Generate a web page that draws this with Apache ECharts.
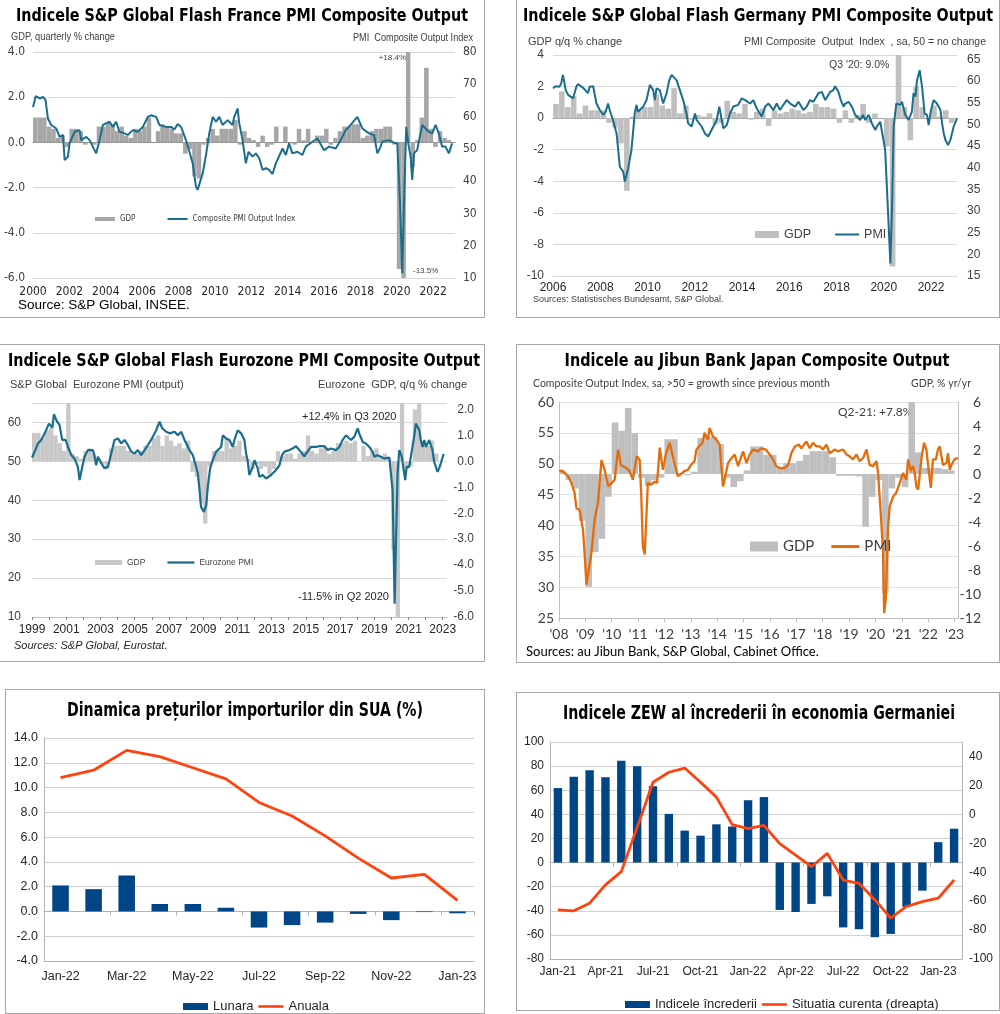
<!DOCTYPE html>
<html><head><meta charset="utf-8">
<script src="https://cdn.jsdelivr.net/npm/echarts@6/dist/echarts.min.js"></script>
<style>
body{margin:0;background:#fff;width:1000px;height:1014px;position:relative;overflow:hidden;}
.box{position:absolute;border:1px solid #a6a6a6;box-sizing:border-box;}
.ch{position:absolute;}
</style></head><body>
<div class="box" style="left:-1px;top:-1px;width:486px;height:319px"></div>
<div class="box" style="left:516px;top:-1px;width:484px;height:319px"></div>
<div class="box" style="left:-1px;top:344px;width:486px;height:318px"></div>
<div class="box" style="left:516px;top:344px;width:484px;height:319px"></div>
<div class="box" style="left:5px;top:689px;width:480px;height:325px"></div>
<div class="box" style="left:516px;top:692px;width:484px;height:319px"></div>
<div id="c1" class="ch" style="left:0;top:0;width:485px;height:318px"></div>
<div id="c2" class="ch" style="left:516px;top:0;width:484px;height:318px"></div>
<div id="c3" class="ch" style="left:0;top:344px;width:485px;height:318px"></div>
<div id="c4" class="ch" style="left:516px;top:344px;width:484px;height:318px"></div>
<div id="c5" class="ch" style="left:5px;top:689px;width:480px;height:325px"></div>
<div id="c6" class="ch" style="left:516px;top:692px;width:484px;height:318px"></div>
<script>
// ---------- DATA ----------
// France: GDP quarterly % change, 2000Q1..2022Q4
const frGdp = [1.1,1.1,1.1,0.7, 0.6,0.2,0.3,-0.2, 0.6,0.6,0.5,-0.1, 0.0,-0.1,0.7,0.7, 0.9,0.8,0.5,0.7,
  0.3,0.2,0.6,0.5, 0.7,1.1,0.0,0.5, 0.8,0.7,0.6,0.4, 0.4,-0.5,-0.3,-1.5, -1.6,-0.1,0.2,0.6,
  0.3,0.6,0.6,0.6, 1.0,-0.1,0.5,0.2, 0.1,-0.2,0.3,-0.2, -0.1,0.7,0.0,0.7, 0.0,-0.1,0.6,0.1,
  0.6,0.0,0.3,0.3, 0.6,-0.1,0.2,0.5, 0.7,0.7,0.8,0.8, 0.2,0.3,0.5,0.6, 0.6,0.7,0.7,-0.1,
  -5.6,-13.5,18.4,-1.1, 0.1,1.1,3.3,0.6, -0.2,0.5,0.2,0.1];
// France: Composite PMI Output Index [year, value]
const frPmi = [[2000.0,63.0],[2000.15,66.3],[2000.37,65.6],[2000.55,66.1],[2000.69,65.1],[2000.82,59.4],[2001.0,57.4],[2001.28,56.3],[2001.46,53.7],[2001.65,54.3],[2001.74,46.5],[2001.92,47.6],[2002.01,51.7],[2002.29,55.3],[2002.56,55.8],[2002.65,52.7],[2002.93,53.7],[2003.11,52.7],[2003.47,48.6],[2003.66,52.7],[2003.84,57.4],[2004.21,58.4],[2004.39,56.8],[2004.57,58.4],[2004.75,55.3],[2005.03,54.8],[2005.21,54.3],[2005.49,55.8],[2005.76,55.3],[2006.04,56.8],[2006.31,59.9],[2006.49,60.4],[2006.77,59.9],[2006.95,57.4],[2007.32,56.8],[2007.59,56.8],[2007.77,56.0],[2007.96,57.7],[2008.14,56.8],[2008.41,52.7],[2008.6,49.1],[2008.78,45.5],[2008.96,38.3],[2009.05,37.3],[2009.14,36.8],[2009.33,42.4],[2009.51,48.1],[2009.69,54.8],[2009.88,59.9],[2010.06,58.4],[2010.24,59.9],[2010.42,57.4],[2010.7,58.9],[2010.97,57.4],[2011.06,59.9],[2011.25,62.5],[2011.34,57.9],[2011.52,52.7],[2011.7,45.5],[2011.85,49.1],[2012.07,47.6],[2012.25,48.6],[2012.44,47.1],[2012.62,43.5],[2012.8,44.0],[2012.98,43.5],[2013.17,42.2],[2013.35,45.5],[2013.72,50.1],[2013.9,48.1],[2014.08,51.7],[2014.26,48.6],[2014.54,49.1],[2014.81,48.1],[2015.0,50.7],[2015.36,52.2],[2015.64,53.2],[2016.0,49.6],[2016.28,50.7],[2016.64,50.1],[2016.92,52.7],[2017.19,55.8],[2017.46,57.4],[2017.83,59.9],[2017.92,59.4],[2018.11,56.3],[2018.47,54.8],[2018.75,54.3],[2018.93,48.6],[2019.11,50.7],[2019.2,52.2],[2019.57,52.7],[2019.84,51.9],[2020.03,51.7],[2020.17,34.2],[2020.3,11.5],[2020.39,32.1],[2020.52,56.8],[2020.63,51.7],[2020.76,47.6],[2020.85,40.4],[2020.94,48.6],[2021.12,49.6],[2021.3,54.8],[2021.4,57.4],[2021.58,56.3],[2021.76,55.3],[2021.95,54.8],[2022.13,57.4],[2022.31,54.8],[2022.49,50.7],[2022.68,50.7],[2022.86,48.6],[2023.04,51.7]];

// Germany: GDP q/q %, 2006Q1..2022Q4
const deGdp = [0.9,1.7,0.7,1.4, 0.3,0.8,0.5,0.5, 0.5,-0.3,-0.6,-1.6, -4.6,0.1,0.5,0.7, 0.7,1.5,0.8,0.6,
  1.9,0.3,0.8,-0.1, 0.2,0.1,0.3,-0.4, -0.3,1.1,0.4,0.3, 0.9,-0.1,0.4,0.6, -0.5,0.5,0.3,0.4,
  0.6,0.5,0.3,0.4, 0.9,0.7,0.7,0.6, -0.3,0.5,-0.3,0.2, 0.9,-0.3,0.3,0.0, -1.8,-9.4,9.0,0.7,
  -1.4,2.0,0.7,0.0, 0.8,0.1,0.5,-0.3];
const dePmi = [[2006.0,58.3],[2006.1,58.8],[2006.28,58.7],[2006.35,59.5],[2006.42,61.4],[2006.54,57.9],[2006.64,56.8],[2006.85,56.0],[2006.99,58.7],[2007.06,59.3],[2007.3,58.3],[2007.48,57.2],[2007.55,58.7],[2007.63,58.5],[2007.7,58.8],[2007.84,54.8],[2007.98,53.3],[2008.12,52.2],[2008.23,52.9],[2008.33,54.8],[2008.4,53.3],[2008.54,51.0],[2008.69,47.9],[2008.83,40.2],[2008.97,39.1],[2009.04,36.8],[2009.18,39.8],[2009.32,44.1],[2009.46,52.5],[2009.53,54.5],[2009.6,52.9],[2009.82,54.1],[2009.96,55.6],[2010.1,59.1],[2010.24,57.9],[2010.31,55.6],[2010.38,58.3],[2010.52,57.9],[2010.66,54.8],[2010.81,57.2],[2010.92,60.2],[2011.02,61.4],[2011.23,60.2],[2011.37,57.9],[2011.51,55.6],[2011.65,52.5],[2011.72,50.2],[2011.87,49.5],[2012.01,52.5],[2012.08,51.0],[2012.29,49.5],[2012.43,47.9],[2012.57,47.2],[2012.71,48.7],[2012.78,48.3],[2012.93,51.0],[2013.04,54.1],[2013.14,51.0],[2013.21,49.1],[2013.35,49.8],[2013.49,52.5],[2013.63,54.1],[2013.84,54.5],[2013.99,56.0],[2014.13,55.6],[2014.2,56.0],[2014.34,54.8],[2014.48,55.6],[2014.62,53.7],[2014.69,54.1],[2014.83,51.8],[2014.9,52.2],[2014.98,54.1],[2015.12,54.8],[2015.33,53.3],[2015.47,54.8],[2015.61,53.3],[2015.75,54.5],[2015.89,55.6],[2016.04,54.8],[2016.25,54.1],[2016.39,55.2],[2016.6,53.3],[2016.74,54.1],[2016.88,55.6],[2017.02,55.2],[2017.24,57.2],[2017.38,57.5],[2017.52,55.6],[2017.66,56.8],[2017.73,57.5],[2017.87,57.9],[2017.94,58.8],[2018.08,57.5],[2018.18,55.6],[2018.3,54.1],[2018.37,54.8],[2018.51,55.2],[2018.65,54.1],[2018.79,52.2],[2018.86,52.5],[2019.0,51.0],[2019.12,52.2],[2019.22,51.0],[2019.36,52.2],[2019.5,50.2],[2019.64,48.7],[2019.71,49.5],[2019.85,50.6],[2019.92,50.2],[2020.06,44.1],[2020.28,17.9],[2020.35,31.0],[2020.42,49.5],[2020.53,54.8],[2020.7,54.5],[2020.77,55.2],[2020.91,52.2],[2021.05,51.0],[2021.19,52.9],[2021.26,57.2],[2021.34,56.4],[2021.41,60.2],[2021.52,62.5],[2021.62,58.7],[2021.73,52.5],[2021.83,52.2],[2021.9,49.8],[2022.0,53.3],[2022.11,55.6],[2022.25,54.8],[2022.4,53.3],[2022.47,50.2],[2022.54,47.9],[2022.61,46.4],[2022.72,45.2],[2022.82,46.4],[2022.96,49.5],[2023.1,51.4]];

// Eurozone: GDP q/q %, 1999Q1..2022Q4
const ezGdp = [1.1,1.1,0.9,1.2, 1.3,1.0,0.7,0.4, 2.5,0.3,0.2,0.1, 0.4,0.5,0.3,0.1, -0.1,-0.3,0.5,0.6,
  0.6,0.6,0.4,0.3, 0.3,0.4,0.6,0.6, 0.9,1.0,0.6,1.0, 0.8,0.6,0.7,0.5, 0.8,-0.4,-0.6,-1.6,
  -2.4,-0.2,0.4,0.4, 0.4,0.9,0.5,0.6, 0.8,0.2,0.1,-0.3, -0.1,-0.3,-0.2,-0.5, -0.3,0.4,0.2,0.3,
  0.3,0.1,0.3,0.4, 1.0,0.4,0.3,0.5, 0.6,0.3,0.4,0.7, 0.7,0.8,0.7,0.8, 0.0,0.6,0.2,0.4,
  0.5,0.2,0.3,0.1, -3.4,-11.5,12.4,-0.3, -0.2,2.0,2.3,0.6, 0.6,0.8,0.3,0.0];
const ezPmi = [[1999.0,51.0],[1999.16,52.5],[1999.35,54.6],[1999.54,55.5],[1999.74,57.2],[1999.99,59.7],[2000.19,58.7],[2000.28,62.1],[2000.42,60.6],[2000.61,59.3],[2000.77,55.5],[2000.96,55.5],[2001.1,53.7],[2001.3,51.6],[2001.49,50.7],[2001.68,48.6],[2001.78,45.2],[2001.94,48.6],[2002.07,51.2],[2002.27,52.9],[2002.56,52.9],[2002.66,51.2],[2002.75,49.0],[2002.85,51.2],[2003.05,49.5],[2003.24,48.2],[2003.44,48.6],[2003.63,52.0],[2003.82,55.5],[2004.02,55.9],[2004.21,54.6],[2004.41,55.5],[2004.6,54.2],[2004.8,52.5],[2004.99,52.0],[2005.19,52.9],[2005.38,51.6],[2005.58,52.9],[2005.77,54.2],[2005.96,55.5],[2006.26,58.0],[2006.45,60.2],[2006.61,58.5],[2006.84,57.6],[2007.04,57.2],[2007.33,57.6],[2007.52,56.7],[2007.72,57.6],[2007.91,55.5],[2008.01,55.9],[2008.2,52.9],[2008.4,51.6],[2008.59,48.6],[2008.69,46.9],[2008.79,42.6],[2008.88,38.3],[2009.04,37.0],[2009.18,38.7],[2009.27,43.4],[2009.41,48.2],[2009.56,50.3],[2009.76,52.5],[2010.05,53.7],[2010.15,56.7],[2010.34,55.9],[2010.54,55.5],[2010.73,53.7],[2010.83,55.5],[2011.02,58.0],[2011.22,57.2],[2011.41,55.5],[2011.51,52.0],[2011.61,49.9],[2011.7,46.5],[2011.9,48.6],[2012.0,50.3],[2012.19,48.2],[2012.29,46.0],[2012.48,46.5],[2012.68,45.6],[2012.97,46.5],[2013.07,46.0],[2013.26,47.8],[2013.46,49.0],[2013.61,51.6],[2013.75,52.5],[2014.04,52.9],[2014.23,53.3],[2014.43,53.9],[2014.62,52.9],[2014.91,51.3],[2015.01,52.0],[2015.3,53.7],[2015.6,53.7],[2015.79,53.9],[2016.08,53.9],[2016.28,52.9],[2016.47,53.3],[2016.76,52.9],[2016.96,53.7],[2017.15,55.5],[2017.35,56.7],[2017.64,55.5],[2017.83,56.3],[2018.03,58.5],[2018.12,57.2],[2018.32,55.0],[2018.51,54.6],[2018.71,53.7],[2018.9,52.5],[2019.0,51.2],[2019.19,51.6],[2019.39,51.2],[2019.58,50.7],[2019.68,50.3],[2019.88,51.0],[2019.97,51.2],[2020.07,42.6],[2020.19,13.4],[2020.27,29.7],[2020.36,46.9],[2020.46,52.9],[2020.61,51.2],[2020.69,48.6],[2020.81,45.2],[2020.89,48.6],[2021.04,48.6],[2021.2,52.9],[2021.33,56.3],[2021.43,59.7],[2021.53,60.2],[2021.63,58.0],[2021.72,55.5],[2021.82,53.7],[2021.92,55.5],[2022.02,53.7],[2022.21,55.5],[2022.4,52.9],[2022.5,49.9],[2022.6,48.6],[2022.7,47.3],[2022.79,48.2],[2022.89,49.5],[2023.05,51.9]];

// Japan: GDP % yr/yr, 2008Q1..2022Q4
const jpGdp = [0.3,-0.5,-1.2,-3.9, -9.4,-6.5,-5.4,-1.9, 4.3,3.6,5.5,3.4, -0.3,-1.0,-0.5,-0.3, 2.9,2.9,0.1,-0.1,
  0.2,3.0,3.1,3.1, 2.5,-0.3,-1.1,-0.6, 0.3,2.3,2.3,1.6, 1.6,0.6,0.9,0.9, 1.1,1.6,1.9,1.9,
  1.9,1.4,-0.15,-0.15, -0.15,-0.2,-4.4,-1.9, -0.5,-9.9,-1.2,-0.3, -1.1,7.8,1.8,0.5, 0.5,0.5,0.4,0.3];
const jpPmi = [[2008.0,48.8],[2008.09,48.9],[2008.21,48.5],[2008.34,48.0],[2008.47,46.9],[2008.59,45.3],[2008.66,42.8],[2008.78,42.5],[2008.91,39.3],[2008.97,35.5],[2009.04,30.4],[2009.1,30.1],[2009.23,35.6],[2009.35,40.9],[2009.48,43.7],[2009.61,50.6],[2009.73,49.0],[2009.87,46.3],[2010.0,46.9],[2010.11,47.4],[2010.24,52.3],[2010.35,49.8],[2010.55,49.3],[2010.68,48.8],[2010.8,47.4],[2010.95,51.2],[2011.06,50.6],[2011.12,44.7],[2011.18,36.6],[2011.25,35.3],[2011.37,46.9],[2011.5,46.6],[2011.62,47.1],[2011.72,46.9],[2011.82,52.6],[2011.94,49.0],[2012.05,51.5],[2012.2,53.4],[2012.3,51.5],[2012.4,49.8],[2012.5,48.0],[2012.62,48.3],[2012.75,48.8],[2012.89,49.0],[2013.0,49.8],[2013.14,50.4],[2013.21,52.3],[2013.31,52.8],[2013.44,53.4],[2013.52,55.0],[2013.65,53.9],[2013.71,55.8],[2013.84,54.4],[2013.97,53.9],[2014.09,53.1],[2014.22,46.3],[2014.28,47.4],[2014.41,50.1],[2014.54,50.9],[2014.66,51.5],[2014.79,49.6],[2014.98,52.0],[2015.11,50.1],[2015.23,51.5],[2015.36,52.3],[2015.55,52.0],[2015.67,52.5],[2015.84,52.3],[2015.99,51.5],[2016.12,50.7],[2016.24,49.6],[2016.37,49.3],[2016.56,49.3],[2016.69,49.8],[2016.81,51.7],[2016.94,52.8],[2017.1,53.1],[2017.19,52.5],[2017.38,53.6],[2017.51,52.5],[2017.63,53.4],[2017.76,52.8],[2017.89,52.8],[2018.01,52.3],[2018.14,53.1],[2018.27,51.7],[2018.46,52.3],[2018.58,52.0],[2018.77,52.3],[2018.9,51.5],[2019.02,51.2],[2019.15,50.7],[2019.28,51.5],[2019.4,50.4],[2019.53,50.9],[2019.66,52.3],[2019.78,49.8],[2019.91,49.6],[2020.04,50.4],[2020.1,48.5],[2020.2,42.0],[2020.29,35.5],[2020.33,25.8],[2020.39,28.0],[2020.48,39.8],[2020.54,43.1],[2020.67,44.7],[2020.79,45.3],[2020.92,46.9],[2021.05,48.5],[2021.17,47.4],[2021.24,50.7],[2021.34,48.8],[2021.43,49.6],[2021.49,48.5],[2021.55,46.3],[2021.62,45.8],[2021.74,50.7],[2021.84,53.4],[2021.93,52.3],[2022.03,48.5],[2022.1,46.1],[2022.18,50.7],[2022.29,50.7],[2022.37,52.3],[2022.44,52.8],[2022.5,51.2],[2022.56,49.8],[2022.69,50.1],[2022.75,51.7],[2022.82,49.0],[2022.88,49.8],[2023.01,50.8],[2023.13,50.9]];

// US import prices
const usCats = ['Jan-22','Feb-22','Mar-22','Apr-22','May-22','Jun-22','Jul-22','Aug-22','Sep-22','Oct-22','Nov-22','Dec-22','Jan-23'];
const usMonthly = [2.1,1.8,2.9,0.6,0.6,0.3,-1.3,-1.1,-0.9,-0.2,-0.7,-0.05,-0.15];
const usAnnual = [10.8,11.4,13.0,12.5,11.6,10.7,8.8,7.7,6.1,4.3,2.7,3.0,0.9];

// ZEW Germany
const zewCats = ['Jan-21','Feb-21','Mar-21','Apr-21','May-21','Jun-21','Jul-21','Aug-21','Sep-21','Oct-21','Nov-21','Dec-21','Jan-22','Feb-22','Mar-22','Apr-22','May-22','Jun-22','Jul-22','Aug-22','Sep-22','Oct-22','Nov-22','Dec-22','Jan-23','Feb-23'];
const zewConf = [61.8,71.2,76.6,70.7,84.4,79.8,63.3,40.4,26.5,22.3,31.7,29.9,51.7,54.3,-39.3,-41.0,-34.3,-28.0,-53.8,-55.3,-61.9,-59.2,-36.7,-23.3,16.9,28.1];
const zewCurrent = [-66.0,-66.7,-61.4,-48.8,-39.6,-9.0,22.2,29.1,32.0,22.2,11.9,-7.1,-9.9,-7.6,-20.2,-28.2,-36.2,-27.0,-45.4,-47.7,-59.0,-71.7,-63.7,-60.3,-58.0,-45.4];

// ---------- RENDER ----------
const FN = "'Liberation Sans Narrow','Arial Narrow','DejaVu Sans Condensed',sans-serif";
const FA = "'Liberation Sans',Arial,sans-serif";
const FL = "Lato,'Open Sans',sans-serif";
const TEAL = '#1b6e8b';
const mctx = document.createElement('canvas').getContext('2d');
function T(x,y,text,font,fill,align){return {type:'text',x:x,y:y,silent:true,style:{text:text,font:font,fill:fill||'#000',align:align||'left',verticalAlign:'middle'}};}
// text squeezed horizontally to a given width (condensed look)
function TW(x,y,text,font,fill,align,w){mctx.font=font;const s=w/mctx.measureText(text).width;const e=T(x,y,text,font,fill,align);e.scaleX=s;return e;}
function title(x,y,text,w,size){return TW(x,y,text,"bold "+size+"px 'DejaVu Sans',sans-serif",'#000','center',w);}
function lineIcon(w,h){return 'path://M0,0H'+w+'V'+h+'H0Z';}
function qBars(arr,start){return arr.map((v,i)=>[start+i*0.25+0.125,v]);}
function mk(id,opt){const c=echarts.init(document.getElementById(id));opt.animation=false;c.setOption(opt);}
const noLine={show:false}, noTick={show:false};

// 1. France
mk('c1',{
  grid:{left:33,right:30,top:52,bottom:40,containLabel:false,outerBoundsMode:'none'},
  xAxis:[{type:'value',min:2000,max:2023.2,interval:2,splitLine:{show:false},axisLine:{onZero:false,lineStyle:{color:'#d9d9d9'}},axisTick:noTick,
     axisLabel:{showMaxLabel:false,formatter:v=>Number.isInteger(v)?String(v):'',color:'#262626',fontSize:12,fontFamily:FN,margin:8}},
    {type:'value',min:2000,max:2023.2,splitLine:{show:false},axisLine:{onZero:true,onZeroAxisIndex:0,lineStyle:{color:'#8c8c8c'}},axisTick:noTick,axisLabel:{show:false}}],
  yAxis:[{type:'value',min:-6,max:4,interval:2,axisLine:noLine,axisTick:noTick,splitLine:{lineStyle:{color:'#d9d9d9'}},
     axisLabel:{formatter:v=>v.toFixed(1),color:'#404040',fontSize:12,fontFamily:FN,margin:8}},
    {type:'value',min:10,max:80,interval:10,position:'right',axisLine:noLine,axisTick:noTick,splitLine:{show:false},
     axisLabel:{color:'#404040',fontSize:12,fontFamily:FN,margin:8}}],
  legend:{left:90,top:210,itemWidth:20,itemHeight:4,itemGap:32,textStyle:{fontSize:8,fontFamily:FN,color:'#404040'},
    data:[{name:'GDP',icon:'rect'},{name:'Composite PMI Output Index',icon:lineIcon(20,2)}]},
  series:[{type:'bar',name:'GDP',data:qBars(frGdp,2000),barWidth:4.5,itemStyle:{color:'#a6a6a6'},clip:true},
    {type:'line',name:'Composite PMI Output Index',data:frPmi,yAxisIndex:1,symbol:'none',showSymbol:false,lineStyle:{color:TEAL,width:2},itemStyle:{color:TEAL}}],
  graphic:[title(242,16,'Indicele S&P Global Flash France PMI Composite Output',452,18),
    TW(11,37,'GDP, quarterly % change',"10px "+FA,'#404040','left',104),
    TW(473,38,'PMI  Composite Output Index',"10px "+FA,'#404040','right',120),
    T(406,58,'+18.4%',"8px "+FA,'#404040','right'),
    T(413,271,'-13.5%',"8px "+FA,'#404040'),
    T(18,305,'Source: S&P Global, INSEE.',"13.5px "+FA,'#000')]
});

// 2. Germany
mk('c2',{
  grid:{left:37,right:43,top:55,bottom:42,containLabel:false,outerBoundsMode:'none'},
  xAxis:[{type:'value',min:2006,max:2023.1,interval:2,splitLine:{show:false},axisLine:{onZero:false,lineStyle:{color:'#d9d9d9'}},axisTick:noTick,
     axisLabel:{showMaxLabel:false,formatter:v=>Number.isInteger(v)?String(v):'',color:'#262626',fontSize:12,fontFamily:FA,margin:6}},
    {type:'value',min:2006,max:2023.1,splitLine:{show:false},axisLine:{onZero:true,onZeroAxisIndex:0,lineStyle:{color:'#a6a6a6'}},axisTick:noTick,axisLabel:{show:false}}],
  yAxis:[{type:'value',min:-10,max:4,interval:2,axisLine:noLine,axisTick:noTick,splitLine:{lineStyle:{color:'#d9d9d9'}},
     axisLabel:{color:'#404040',fontSize:12,fontFamily:FA,margin:9}},
    {type:'value',min:15,max:66,interval:5,position:'right',axisLine:noLine,axisTick:noTick,splitLine:{show:false},
     axisLabel:{showMaxLabel:false,color:'#404040',fontSize:12,fontFamily:FA,margin:10}}],
  legend:{left:234,top:223,itemWidth:24,itemHeight:7,itemGap:24,textStyle:{fontSize:12.5,fontFamily:FA,color:'#404040'},
    data:[{name:'GDP',icon:'rect'},{name:'PMI',icon:lineIcon(24,2)}]},
  series:[{type:'bar',name:'GDP',data:qBars(deGdp,2006),barWidth:5.6,itemStyle:{color:'#bfbfbf'},clip:true},
    {type:'line',name:'PMI',data:dePmi,yAxisIndex:1,symbol:'none',showSymbol:false,lineStyle:{color:TEAL,width:2},itemStyle:{color:TEAL}}],
  graphic:[title(242,16,'Indicele S&P Global Flash Germany PMI Composite Output',470,18),
    T(12,42,'GDP q/q % change',"11px "+FA,'#404040'),
    T(470,42,"PMI Composite  Output  Index  , sa, 50 = no change","10.5px "+FA,'#404040','right'),
    T(313,65,"Q3 '20: 9.0%","10.5px "+FA,'#404040'),
    T(17,300,'Sources: Statistisches Bundesamt, S&P Global.',"9px "+FA,'#404040')]
});

// 3. Eurozone
mk('c3',{
  grid:{left:32,right:38,top:59,bottom:45,containLabel:false,outerBoundsMode:'none'},
  xAxis:[{type:'value',min:1999,max:2023.25,interval:1,splitLine:{show:false},axisLine:{onZero:false,lineStyle:{color:'#bfbfbf'}},
     axisTick:{show:true,length:3,lineStyle:{color:'#808080'}},
     axisLabel:{showMaxLabel:false,formatter:v=>(Number.isInteger(v)&&(v-1999)%2===0)?String(v):'',color:'#262626',fontSize:12,fontFamily:FA,margin:7}}],
  yAxis:[{type:'value',min:10,max:65,interval:10,axisLine:noLine,axisTick:noTick,splitLine:{lineStyle:{color:'#d9d9d9'}},
     axisLabel:{showMaxLabel:false,color:'#404040',fontSize:12,fontFamily:FA,margin:11}},
    {type:'value',min:-6,max:2.25,interval:1,position:'right',axisLine:noLine,axisTick:noTick,splitLine:{show:false},
     axisLabel:{showMaxLabel:false,formatter:v=>v.toFixed(1),align:'right',color:'#404040',fontSize:12,fontFamily:FA,margin:27}}],
  legend:{left:90,top:209,itemWidth:27,itemHeight:5,itemGap:22,textStyle:{fontSize:8.5,fontFamily:FA,color:'#404040'},
    data:[{name:'GDP',icon:'rect'},{name:'Eurozone PMI',icon:lineIcon(27,2.3)}]},
  series:[{type:'bar',name:'GDP',data:qBars(ezGdp,1999),barWidth:4.3,yAxisIndex:1,itemStyle:{color:'#c8c8c8'},clip:true},
    {type:'line',name:'Eurozone PMI',data:ezPmi,yAxisIndex:0,symbol:'none',showSymbol:false,lineStyle:{color:TEAL,width:2.2},itemStyle:{color:TEAL}}],
  graphic:[title(244,17,'Indicele S&P Global Flash Eurozone PMI Composite Output',472,18),
    T(10,41,'S&P Global  Eurozone PMI (output)',"11px "+FA,'#404040'),
    T(467,41,'Eurozone  GDP, q/q % change',"11px "+FA,'#404040','right'),
    T(302,73,'+12.4% in Q3 2020',"11px "+FA,'#262626'),
    T(298,253,'-11.5% in Q2 2020',"11px "+FA,'#262626'),
    T(14,302,'Sources: S&P Global, Eurostat.',"italic 11px "+FA,'#262626')]
});

// 4. Japan
mk('c4',{
  grid:{left:43,right:42,top:58,bottom:44,containLabel:false,outerBoundsMode:'none'},
  xAxis:[{type:'value',min:2008,max:2023.13,interval:1,splitLine:{show:false},axisLine:{onZero:false,lineStyle:{color:'#bfbfbf'}},
     axisTick:{show:true,length:4,lineStyle:{color:'#bfbfbf'}},
     axisLabel:{showMaxLabel:false,formatter:v=>Number.isInteger(v)?"'"+String(v).slice(2):'',color:'#404040',fontSize:14,fontFamily:FL,margin:9}}],
  yAxis:[{type:'value',min:25,max:60,interval:5,axisLine:{show:true,lineStyle:{color:'#bfbfbf'}},axisTick:noTick,splitLine:{lineStyle:{color:'#e0e0e0'}},
     axisLabel:{color:'#404040',fontSize:14,fontFamily:FL,margin:5}},
    {type:'value',min:-12,max:6,interval:2,position:'right',axisLine:{show:true,lineStyle:{color:'#bfbfbf'}},axisTick:noTick,splitLine:{show:false},
     axisLabel:{align:'right',color:'#404040',fontSize:14,fontFamily:FL,margin:23}}],
  legend:{left:229,top:190,itemWidth:28,itemHeight:10,itemGap:17,textStyle:{fontSize:15,fontFamily:FL,color:'#404040'},
    data:[{name:'GDP',icon:'rect'},{name:'PMI',icon:lineIcon(28,3)}]},
  series:[{type:'bar',name:'GDP',data:qBars(jpGdp,2008),barWidth:6.6,yAxisIndex:1,itemStyle:{color:'#bfbfbf'},clip:true},
    {type:'line',name:'PMI',data:jpPmi,yAxisIndex:0,symbol:'none',showSymbol:false,lineStyle:{color:'#e46c0a',width:2.3},itemStyle:{color:'#e46c0a'}}],
  graphic:[title(241,17,'Indicele au Jibun Bank Japan Composite Output',385,18),
    T(17,40,'Composite Output Index, sa, >50 = growth since previous month',"10.5px "+FL,'#404040'),
    T(455,40,'GDP, % yr/yr',"10.5px "+FL,'#404040','right'),
    T(322,68,'Q2-21: +7.8%',"12px "+FL,'#404040'),
    T(10,308,'Sources: au Jibun Bank, S&P Global, Cabinet Office.',"13px "+FL,'#000')]
});

// 5. US import prices
mk('c5',{
  grid:{left:39,right:11,top:49,bottom:53,containLabel:false,outerBoundsMode:'none'},
  xAxis:[{type:'category',data:usCats,axisLine:{onZero:false,lineStyle:{color:'#b3b3b3'}},axisTick:noTick,
     axisLabel:{interval:1,color:'#262626',fontSize:12.5,fontFamily:FA,margin:9}},
    {type:'category',data:usCats,position:'bottom',axisLine:{onZero:true,onZeroAxisIndex:0,lineStyle:{color:'#b3b3b3'}},
     axisTick:{show:true,length:4,lineStyle:{color:'#b3b3b3'}},axisLabel:{show:false}}],
  yAxis:[{type:'value',min:-4,max:14,interval:2,axisLine:{show:true,lineStyle:{color:'#b3b3b3'}},axisTick:noTick,splitLine:{lineStyle:{color:'#d0d0d0'}},
     axisLabel:{formatter:v=>v.toFixed(1),color:'#262626',fontSize:12.5,fontFamily:FA,margin:6}}],
  legend:{left:173,top:306,itemWidth:25,itemHeight:7,itemGap:5,textStyle:{fontSize:13,fontFamily:FA,color:'#262626'},
    data:[{name:'Lunara',icon:'rect'},{name:'Anuala',icon:lineIcon(25,2.6)}]},
  series:[{type:'bar',name:'Lunara',data:usMonthly,barWidth:'50%',itemStyle:{color:'#004586'}},
    {type:'line',name:'Anuala',data:usAnnual,symbol:'none',showSymbol:false,lineStyle:{color:'#ff420e',width:2.8},itemStyle:{color:'#ff420e'}}],
  graphic:[title(240,22,'Dinamica prețurilor importurilor din SUA (%)',356,19.5)]
});

// 6. ZEW
mk('c6',{
  grid:{left:34,right:38,top:50,bottom:51,containLabel:false,outerBoundsMode:'none'},
  xAxis:[{type:'category',data:zewCats,axisLine:{onZero:false,lineStyle:{color:'#b3b3b3'}},axisTick:noTick,
     axisLabel:{interval:2,color:'#262626',fontSize:12,fontFamily:FA,margin:7}},
    {type:'category',data:zewCats,position:'bottom',axisLine:{onZero:true,onZeroAxisIndex:0,lineStyle:{color:'#b3b3b3'}},
     axisTick:{show:true,length:4,lineStyle:{color:'#b3b3b3'}},axisLabel:{show:false}}],
  yAxis:[{type:'value',min:-80,max:100,interval:20,axisLine:{show:true,lineStyle:{color:'#b3b3b3'}},axisTick:noTick,splitLine:{lineStyle:{color:'#d0d0d0'}},
     axisLabel:{color:'#262626',fontSize:12,fontFamily:FA,margin:6}},
    {type:'value',min:-100,max:50,interval:20,position:'right',axisLine:{show:true,lineStyle:{color:'#b3b3b3'}},axisTick:noTick,splitLine:{show:false},
     axisLabel:{showMaxLabel:false,color:'#262626',fontSize:12,fontFamily:FA,margin:7}}],
  legend:{left:104,top:301,itemWidth:25,itemHeight:7,itemGap:5,textStyle:{fontSize:13,fontFamily:FA,color:'#262626'},
    data:[{name:'Indicele încrederii',icon:'rect'},{name:'Situatia curenta (dreapta)',icon:lineIcon(25,2.6)}]},
  series:[{type:'bar',name:'Indicele încrederii',data:zewConf,barWidth:'53%',itemStyle:{color:'#004586'}},
    {type:'line',name:'Situatia curenta (dreapta)',data:zewCurrent,yAxisIndex:1,symbol:'none',showSymbol:false,lineStyle:{color:'#ff420e',width:2.8},itemStyle:{color:'#ff420e'}}],
  graphic:[title(243,22,'Indicele ZEW al încrederii în economia Germaniei',392,20)]
});
</script>
</body></html>
